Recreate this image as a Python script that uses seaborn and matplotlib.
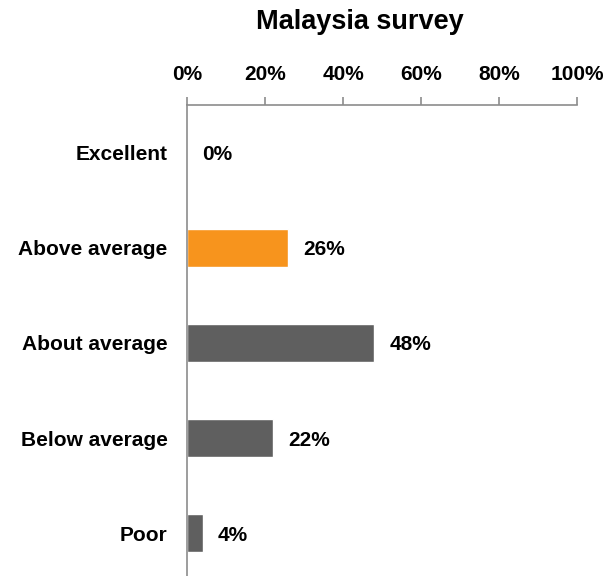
import matplotlib
matplotlib.use("Agg")
import matplotlib.pyplot as plt
import seaborn as sns
import pandas as pd

categories = ["Excellent", "Above average", "About average", "Below average", "Poor"]
shares = [0, 26, 48, 22, 4]
bar_colors = ["#5F5F5F", "#F7941D", "#5F5F5F", "#5F5F5F", "#5F5F5F"]
tick_values = [0, 20, 40, 60, 80, 100]
tick_labels = ["0%", "20%", "40%", "60%", "80%", "100%"]

sns.set_theme(style="white")
plt.rcParams["font.family"] = ["Liberation Sans", "DejaVu Sans"]

df = pd.DataFrame({"rating": categories, "share": shares})

fig = plt.figure(figsize=(6.08, 5.76), dpi=100)
W, H = 608, 576
ax = fig.add_axes([187 / W, 0, (577 - 187) / W, (576 - 105) / H])

sns.barplot(data=df, y="rating", x="share", hue="rating", palette=bar_colors,
            legend=False, width=0.4, ax=ax, orient="h", saturation=1)

ax.set_xlim(0, 100)
ax.set_ylim(4.45, -0.5)
ax.xaxis.tick_top()
ax.set_xticks(tick_values)
ax.set_xticklabels(tick_labels, fontsize=15, fontweight="bold", color="black")
ax.tick_params(axis="x", direction="out", length=6, width=1.2, color="#8C8C8C",
               pad=9, top=True, bottom=False)
ax.tick_params(axis="y", length=0, pad=14)
for lbl in ax.get_yticklabels():
    lbl.set_fontsize(15)
    lbl.set_fontweight("bold")
    lbl.set_color("black")
ax.set_xlabel("")
ax.set_ylabel("")

for side in ["right", "bottom"]:
    ax.spines[side].set_visible(False)
for side in ["top", "left"]:
    ax.spines[side].set_color("#8C8C8C")
    ax.spines[side].set_linewidth(1.2)

for i, v in enumerate(shares):
    ax.annotate(f"{v}%", xy=(v, i), xytext=(11, 0), textcoords="offset points",
                ha="left", va="center_baseline", fontsize=15, fontweight="bold",
                color="black")

fig.text(360 / W, 1 - 22 / H, "Malaysia survey", ha="center", va="center",
         fontsize=19.5, fontweight="bold", color="black")

fig.savefig("out.png", dpi=100)
